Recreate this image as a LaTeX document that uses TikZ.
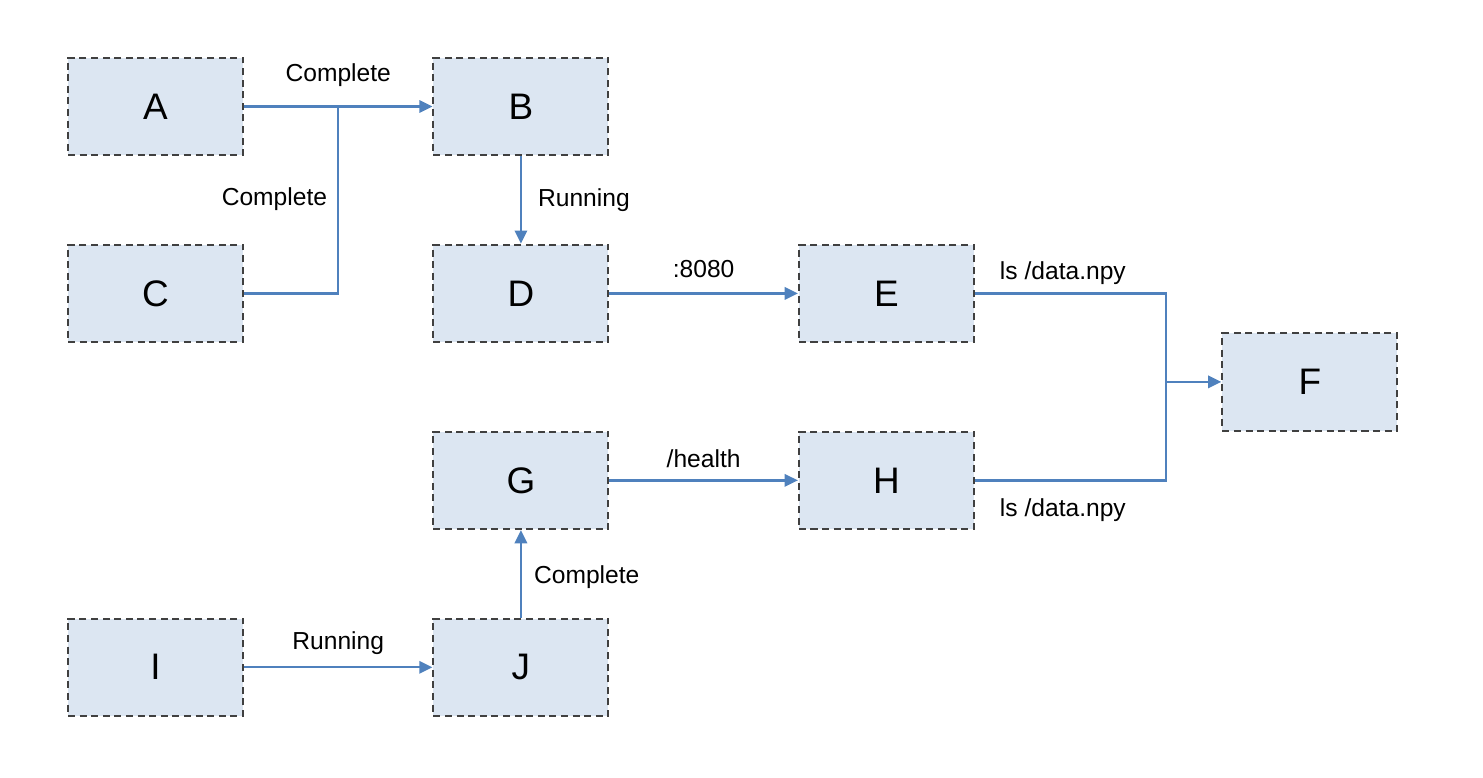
\documentclass[tikz,border=0pt]{standalone}
\usepackage{fontspec}
\setmainfont{Liberation Sans}
\usetikzlibrary{arrows.meta,positioning,calc}
\definecolor{boxfill}{RGB}{220,230,242}
\definecolor{boxedge}{RGB}{64,64,64}
\definecolor{linkblue}{RGB}{79,129,189}

\begin{document}
\begin{tikzpicture}[
  box/.style={draw=boxedge, line width=1.1pt, dash pattern=on 4pt off 2.6pt,
              fill=boxfill, minimum height=1.95cm, minimum width=3.5cm,
              inner sep=0pt, font=\fontsize{21}{25}\selectfont},
  link/.style={draw=linkblue, line width=1.3pt},
  arrow/.style={link, -{Triangle[length=7.5pt,width=7pt]}},
  lbl/.style={font=\fontsize{14}{17}\selectfont, inner sep=0pt},
  node distance=1.75cm and 3.77cm
]
\useasboundingbox (0,0) rectangle (29.66,-15.56);

% Boxes
\node[box] at (3.11,-2.13)  (A) {A};
\node[box, right=of A]      (B) {B};
\node[box, below=of A]      (C) {C};
\node[box, below=of B]      (D) {D};
\node[box, right=of D]      (E) {E};
\node[box, below=of D]      (G) {G};
\node[box, right=of G]      (H) {H};
\node[box, below=of G]      (J) {J};
\node[box, left=of J]       (I) {I};

% Junctions
\coordinate (jAB) at ($(A.east)!0.5!(B.west)$);
\path ($(E.east)!0.5!(H.east)$) ++(3.83,0.1) coordinate (T);
\node[box, right=1.1cm of T] (F) {F};

% Arrows
\draw[arrow] (A) -- node[lbl, anchor=base, yshift=0.49cm] {Complete} (B);
\draw[link]  (C.east) -| node[lbl, pos=0.76, anchor=east, xshift=-0.2cm, yshift=-0.05cm] {Complete} (jAB);
\draw[arrow] (B) -- node[lbl, anchor=west, xshift=0.32cm] {Running} (D);
\draw[arrow] (D) -- node[lbl, anchor=base, yshift=0.32cm] {:8080} (E);
\draw[link]  (E.east) -| node[lbl, pos=0, anchor=base west, xshift=0.48cm, yshift=0.28cm] {ls /data.npy} (T);
\draw[link]  (H.east) -| node[lbl, pos=0, anchor=base west, xshift=0.48cm, yshift=-0.72cm] {ls /data.npy} (T);
\draw[arrow] (T) -- (F);
\draw[arrow] (G) -- node[lbl, anchor=base, yshift=0.26cm] {/health} (H);
\draw[arrow] (J) -- node[lbl, anchor=west, xshift=0.24cm, yshift=-0.07cm] {Complete} (G);
\draw[arrow] (I) -- node[lbl, anchor=base, yshift=0.36cm] {Running} (J);
\end{tikzpicture}
\end{document}
